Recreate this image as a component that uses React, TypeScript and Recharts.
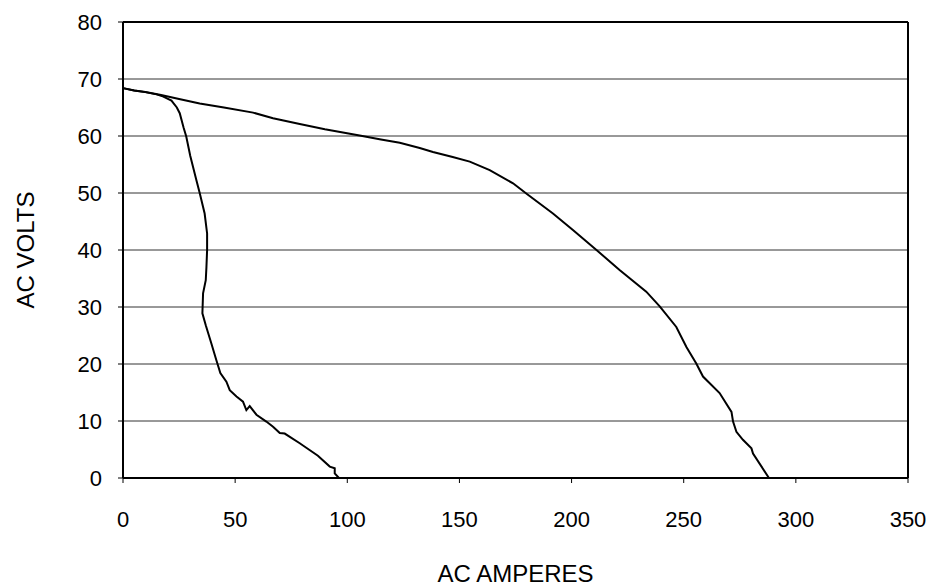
import {
  CartesianGrid,
  Label,
  Line,
  LineChart,
  ReferenceLine,
  XAxis,
  YAxis,
} from "recharts";

// curve that drops steeply (low current branch)
const innerAmps = [
  0, 5, 10, 15, 18, 21.6, 24, 25.3, 27, 28.2, 30, 32.7, 34.2, 36.4, 37.5, 37.5,
  37.2, 36.9, 35.7, 35.4, 36.9, 39.4, 41.6, 43.4, 46.1, 47.6, 50.6, 53.5, 55.0,
  56.5, 59.5, 63.9, 66.9, 69.9, 72.1, 78.8, 86.9, 92.2, 94.4, 94.4, 96.3,
];
const innerVolts = [
  68.4, 68.0, 67.7, 67.3, 66.9, 66.2, 65.0, 64.0, 61.5, 59.9, 56.5, 52.3, 50,
  46.4, 42.9, 40, 37, 34.7, 32.4, 28.9, 26.8, 23.6, 20.7, 18.4, 16.9, 15.4,
  14.3, 13.4, 11.9, 12.6, 11.1, 9.9, 9.0, 7.9, 7.8, 6.1, 3.9, 2.0, 1.7, 0.8, 0,
];

// curve that reaches out to ~288 A
const outerAmps = [
  0, 5, 10, 17, 25, 34.2, 45, 58, 66.9, 78.8, 90, 105.5, 115, 123.4, 132.3,
  138.2, 147, 154.6, 163.5, 173.9, 179.8, 191.7, 200.6, 211.1, 221.4, 233.3,
  239.3, 246.7, 251.2, 255.6, 258.6, 266.0, 271.3, 272.0, 273.5, 276.4, 280.2,
  280.9, 288.0,
];
const outerVolts = [
  68.4, 68.0, 67.7, 67.2, 66.5, 65.7, 65.0, 64.1, 63.1, 62.1, 61.2, 60.1, 59.4,
  58.8, 57.9, 57.2, 56.3, 55.5, 54.0, 51.7, 49.9, 46.4, 43.5, 40.0, 36.5, 32.7,
  30.1, 26.5, 23.0, 20.1, 17.8, 14.9, 11.6, 9.9, 8.1, 6.7, 5.2, 4.3, 0,
];

const xTicks = [0, 50, 100, 150, 200, 250, 300, 350];
const yTicks = [0, 10, 20, 30, 40, 50, 60, 70, 80];

const inner = innerAmps.map((a, i) => ({ amps: a, volts: innerVolts[i] }));
const outer = outerAmps.map((a, i) => ({ amps: a, volts: outerVolts[i] }));

const font = "Liberation Sans, Arial, sans-serif";
const tickStyle = { fill: "#000", fontSize: 22, fontFamily: font };

export default function App() {
  return (
    <div style={{ position: "absolute", left: 0, top: 0, background: "#fff" }}>
      <LineChart
        width={937}
        height={588}
        margin={{ top: 22, right: 29, bottom: 0, left: 0 }}
      >
        <CartesianGrid vertical={false} stroke="#333" strokeWidth={1} />
        <XAxis
          type="number"
          dataKey="amps"
          domain={[0, 350]}
          ticks={xTicks}
          allowDuplicatedCategory={false}
          height={110}
          tickSize={5}
          tickMargin={28}
          tick={tickStyle}
          axisLine={{ stroke: "#000", strokeWidth: 2 }}
          tickLine={{ stroke: "#000" }}
        >
          <Label
            value="AC AMPERES"
            position="insideBottom"
            offset={6}
            style={{ fill: "#000", fontSize: 24, fontFamily: font }}
          />
        </XAxis>
        <YAxis
          type="number"
          dataKey="volts"
          domain={[0, 80]}
          ticks={yTicks}
          width={123}
          tickSize={5}
          tickMargin={16}
          tick={tickStyle}
          axisLine={{ stroke: "#000", strokeWidth: 2 }}
          tickLine={{ stroke: "#000" }}
        >
          <Label
            value="AC VOLTS"
            angle={-90}
            position="insideLeft"
            offset={25}
            style={{
              fill: "#000",
              fontSize: 24,
              fontFamily: font,
              textAnchor: "middle",
            }}
          />
        </YAxis>
        <ReferenceLine y={80} stroke="#000" strokeWidth={2} />
        <ReferenceLine x={350} stroke="#000" strokeWidth={2} />
        <Line
          data={inner}
          dataKey="volts"
          type="linear"
          stroke="#000"
          strokeWidth={2}
          dot={false}
          isAnimationActive={false}
        />
        <Line
          data={outer}
          dataKey="volts"
          type="linear"
          stroke="#000"
          strokeWidth={2}
          dot={false}
          isAnimationActive={false}
        />
      </LineChart>
    </div>
  );
}
